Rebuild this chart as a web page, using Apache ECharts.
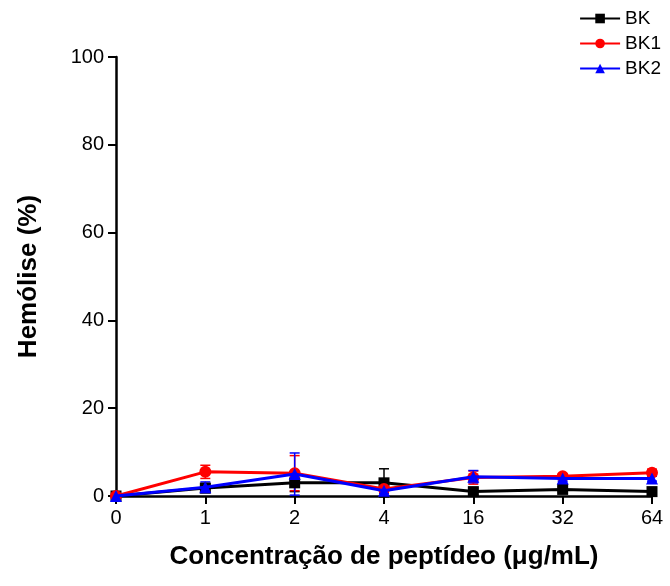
<!DOCTYPE html><html><head><meta charset="utf-8"><script src="https://cdn.jsdelivr.net/npm/echarts@6/dist/echarts.min.js"></script></head><body style="margin:0"><div id="c" style="width:670px;height:586px"></div><script>
var categories=['0','1','2','4','16','32','64'];
var bk=[0,1.8,3.0,3.0,1.0,1.5,1.0];
var bkErr=[0,1.0,2.0,3.2,0.8,0.6,0.5];
var bk1=[0,5.5,5.2,1.6,4.2,4.5,5.3];
var bk1Err=[0,1.5,4.0,0.8,1.5,0.6,0.8];
var bk2=[0,2.0,5.0,1.2,4.4,4.0,4.0];
var bk2Err=[0,1.2,4.8,0.6,1.4,0.6,0.6];
var c=echarts.init(document.getElementById('c'));
function errSeries(vals,errs,color){
 return {type:'custom',silent:true,z:1,data:vals.map(function(v,i){return [i,v-errs[i],v+errs[i]];}),
 renderItem:function(p,api){var lo=api.coord([api.value(0),api.value(1)]),hi=api.coord([api.value(0),api.value(2)]);
 return {type:'group',children:[
 {type:'line',shape:{x1:lo[0],y1:lo[1],x2:hi[0],y2:hi[1]},style:{stroke:color,lineWidth:1.5}},
 {type:'line',shape:{x1:hi[0]-5,y1:hi[1],x2:hi[0]+5,y2:hi[1]},style:{stroke:color,lineWidth:1.5}},
 {type:'line',shape:{x1:lo[0]-5,y1:lo[1],x2:lo[0]+5,y2:lo[1]},style:{stroke:color,lineWidth:1.5}}]};}};
}
var ft='Liberation Sans, Arial, sans-serif';
c.setOption({animation:false,
grid:{left:116,right:18,top:57,bottom:90,containLabel:false},
legend:{orient:'vertical',right:4,top:4,itemGap:6,itemWidth:40,itemHeight:12,textStyle:{fontFamily:ft,fontSize:19,color:'#000'},data:['BK','BK1','BK2']},
xAxis:{type:'category',data:categories,boundaryGap:false,axisLine:{lineStyle:{color:'#000',width:2.5}},axisTick:{alignWithLabel:true,length:8,lineStyle:{width:2}},axisLabel:{fontFamily:ft,fontSize:20,color:'#000',margin:12},
 name:'Concentração de peptídeo (μg/mL)',nameLocation:'middle',nameGap:48,nameTextStyle:{fontFamily:ft,fontSize:26,fontWeight:'bold',color:'#000'}},
yAxis:{type:'value',min:0,max:100,interval:20,splitLine:{show:false},axisLine:{show:true,lineStyle:{color:'#000',width:2.5}},axisTick:{show:true,length:8,lineStyle:{width:2}},axisLabel:{fontFamily:ft,fontSize:20,color:'#000',margin:12},
 name:'Hemólise (%)',nameLocation:'middle',nameGap:74,nameTextStyle:{fontFamily:ft,fontSize:26,fontWeight:'bold',color:'#000'}},
series:[errSeries(bk,bkErr,'#000'),errSeries(bk1,bk1Err,'#f00'),errSeries(bk2,bk2Err,'#00f'),
{name:'BK',type:'line',data:bk,symbol:'rect',symbolSize:11,lineStyle:{color:'#000',width:3},itemStyle:{color:'#000'},z:3},
{name:'BK1',type:'line',data:bk1,symbol:'circle',symbolSize:12,lineStyle:{color:'#f00',width:3},itemStyle:{color:'#f00'},z:4},
{name:'BK2',type:'line',data:bk2,symbol:'triangle',symbolSize:12,lineStyle:{color:'#00f',width:3},itemStyle:{color:'#00f'},z:5}]});
</script></body></html>
